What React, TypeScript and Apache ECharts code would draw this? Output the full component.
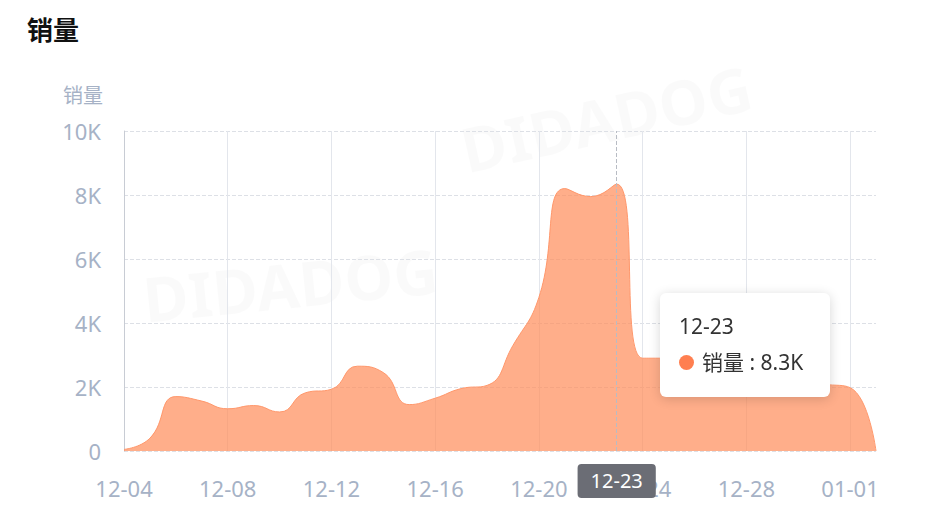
import React, { useEffect, useRef } from 'react';
import * as echarts from 'echarts';

const dates = [
  '12-04', '12-05', '12-06', '12-07', '12-08', '12-09', '12-10', '12-11', '12-12', '12-13',
  '12-14', '12-15', '12-16', '12-17', '12-18', '12-19', '12-20', '12-21', '12-22', '12-23',
  '12-24', '12-25', '12-26', '12-27', '12-28', '12-29', '12-30', '12-31', '01-01', '01-02',
];
const sales = [
  50, 400, 1700, 1560, 1320, 1420, 1220, 1820, 1930, 2650,
  2450, 1450, 1650, 1950, 2050, 3300, 4800, 8200, 7950, 8340,
  2900, 2900, 2850, 2700, 2500, 2300, 2150, 2080, 1980, 0,
];
const seriesName = '销量';
const chartTitle = '销量';
const highlightIndex = 19;
const watermarks = [
  { x: 455, y: 120, r: 0.22 },
  { x: 140, y: 268, r: 0.1 },
];

const FONT = "'Noto Sans', 'Noto Sans CJK SC', sans-serif";
const LABEL_COLOR = '#a6b2c6';
const fmtK = (v: number) => (v === 0 ? '0' : `${v / 1000}K`);

export default function App() {
  const ref = useRef<HTMLDivElement>(null);
  useEffect(() => {
    document.body.style.margin = '0';
    const chart = echarts.init(ref.current!, undefined, { renderer: 'svg' });
    chart.setOption({
      animation: false,
      backgroundColor: '#ffffff',
      textStyle: { fontFamily: FONT },
      title: {
        text: chartTitle,
        left: 27,
        top: 17,
        padding: 0,
        textStyle: { fontSize: 26, fontWeight: 'bold', color: '#111111', fontFamily: FONT },
      },
      graphic: watermarks.map((w) => ({
        type: 'text',
        x: w.x,
        y: w.y,
        rotation: w.r,
        silent: true,
        z: 0,
        style: {
          text: 'DIDADOG',
          fontSize: 62,
          fontWeight: 'bold',
          fontFamily: FONT,
          fill: 'rgba(0,0,0,0.018)',
        },
      })),
      grid: { left: 124, right: 60, top: 131, bottom: 81 },
      tooltip: {
        trigger: 'axis',
        triggerOn: 'none',
        alwaysShowContent: true,
        transitionDuration: 0,
        position: [660, 293],
        padding: [21, 19, 21, 19],
        backgroundColor: '#ffffff',
        borderWidth: 0,
        extraCssText: 'width:170px;height:104px;box-sizing:border-box;border-radius:6px;box-shadow:0 2px 12px rgba(0,0,0,0.16);',
        axisPointer: {
          type: 'line',
          lineStyle: { type: 'dashed', color: '#b8bcc4', width: 1 },
          label: {
            show: true,
            backgroundColor: '#6b6d75',
            color: '#ffffff',
            fontSize: 20,
            fontFamily: FONT,
            padding: [7, 13, 7, 13],
            borderRadius: 4,
            margin: 13,
            shadowBlur: 0,
          },
        },
        formatter: (params: any) => {
          const p = Array.isArray(params) ? params[0] : params;
          const v = (p.value / 1000).toFixed(1) + 'K';
          const ff = FONT.replace(/"/g, '');
          return `<div style="font-family:${ff};font-size:21px;line-height:24px;color:#333">${p.name}</div>` +
            `<div style="font-family:${ff};margin-top:12px;display:flex;align-items:center;font-size:21px;line-height:24px;color:#333;white-space:nowrap">` +
            `<span style="display:inline-block;width:15px;height:15px;border-radius:8px;background:#ff7f50;margin-right:8px"></span>${p.seriesName} : ${v}</div>`;
        },
      },
      xAxis: {
        type: 'category',
        boundaryGap: false,
        data: dates,
        axisLine: { show: false },
        axisTick: { show: false },
        axisLabel: { interval: 3, color: LABEL_COLOR, fontSize: 22, margin: 26, fontFamily: FONT },
        splitLine: { show: true, interval: 3, lineStyle: { color: '#e3e6ec', type: 'solid', width: 1 } },
      },
      yAxis: {
        type: 'value',
        min: 0,
        max: 10000,
        interval: 2000,
        name: seriesName,
        nameGap: 26,
        nameTextStyle: { color: LABEL_COLOR, fontSize: 20, align: 'right', padding: [0, 21, 0, 0], fontFamily: FONT },
        axisLine: { show: true, lineStyle: { color: '#c8ccd4' } },
        axisTick: { show: false },
        axisLabel: { color: LABEL_COLOR, fontSize: 22, margin: 23, formatter: fmtK, fontFamily: FONT },
        splitLine: { show: true, lineStyle: { color: '#dde0e6', type: 'dashed' } },
      },
      series: [
        {
          name: seriesName,
          type: 'line',
          data: sales,
          smooth: true,
          symbol: 'none',
          showSymbol: false,
          itemStyle: { color: '#ff7f50' },
          lineStyle: { color: '#fa8a62', width: 1 },
          areaStyle: { color: '#ff7f50', opacity: 0.7 },
          z: 2,
        },
      ],
    });
    chart.dispatchAction({ type: 'showTip', seriesIndex: 0, dataIndex: highlightIndex });
    return () => chart.dispose();
  }, []);
  return <div ref={ref} style={{ width: 936, height: 532 }} />;
}
